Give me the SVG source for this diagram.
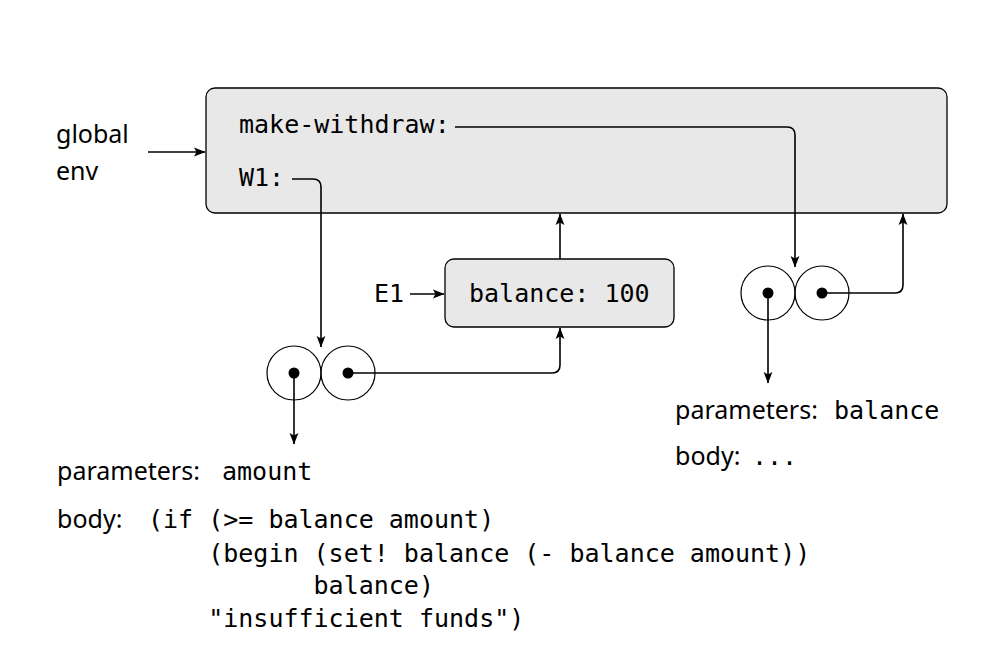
<svg xmlns="http://www.w3.org/2000/svg" width="990" height="670" viewBox="0 0 990 670">
  <style>
    .frame { fill: #e8e8e8; stroke: #000; stroke-width: 1.3; }
    .mono { font-family: "DejaVu Sans Mono", "Liberation Mono", monospace; font-size: 25px; fill: #000; }
    .sans { font-family: "Noto Sans", "Open Sans", sans-serif; font-size: 25px; fill: #000; }
    .cell { fill: none; stroke: #000; stroke-width: 1.2; }
    .dot { fill: #000; }
    .wire { fill: none; stroke: #000; stroke-width: 1.6; marker-end: url(#arrow); }
  </style>
  <defs>
    <marker id="arrow" markerUnits="userSpaceOnUse" markerWidth="12" markerHeight="10" viewBox="0 0 12 10" refX="11" refY="5" orient="auto">
      <path d="M0,0.6 L11.5,5 L0,9.4 L2.5,5 z" fill="#000"/>
    </marker>
  </defs>

  <!-- global environment frame -->
  <g id="global-env">
    <rect class="frame" x="206" y="88" width="741" height="125" rx="9"/>
    <text class="mono" x="239" y="133">make-withdraw:</text>
    <text class="mono" x="239" y="186">W1:</text>
  </g>

  <g id="global-label">
    <text class="sans" x="56" y="143">global</text>
    <text class="sans" x="56" y="180">env</text>
  </g>

  <!-- environment E1 -->
  <g id="E1">
    <rect class="frame" x="445" y="259" width="229" height="68" rx="9"/>
    <text class="mono" x="469" y="302">balance: 100</text>
  </g>
  <g id="E1-label">
    <text class="mono" x="374" y="302">E1</text>
  </g>

  <!-- procedure object W1 -->
  <g id="proc-W1">
    <circle class="cell" cx="294" cy="373" r="27"/>
    <circle class="cell" cx="348" cy="373" r="27"/>
    <circle class="dot" cx="294" cy="373" r="5.5"/>
    <circle class="dot" cx="348" cy="373" r="5.5"/>
  </g>

  <!-- procedure object make-withdraw -->
  <g id="proc-make-withdraw">
    <circle class="cell" cx="768" cy="293" r="27"/>
    <circle class="cell" cx="822" cy="293" r="27"/>
    <circle class="dot" cx="768" cy="293" r="5.5"/>
    <circle class="dot" cx="822" cy="293" r="5.5"/>
  </g>

  <!-- code of W1 -->
  <g id="code-W1">
    <text class="sans" x="57" y="480">parameters:</text>
    <text class="mono" x="222" y="480">amount</text>
    <text class="sans" x="57" y="528">body:</text>
    <text class="mono" x="148" y="528" xml:space="preserve">(if (&gt;= balance amount)</text>
    <text class="mono" x="148" y="562" xml:space="preserve">    (begin (set! balance (- balance amount))</text>
    <text class="mono" x="148" y="594" xml:space="preserve">           balance)</text>
    <text class="mono" x="148" y="627" xml:space="preserve">    "insufficient funds")</text>
  </g>

  <!-- code of make-withdraw -->
  <g id="code-make-withdraw">
    <text class="sans" x="675" y="419">parameters:</text>
    <text class="mono" x="834" y="419">balance</text>
    <text class="sans" x="675" y="465">body:</text>
    <text class="mono" x="752" y="465">...</text>
  </g>

  <!-- connectors -->
  <g id="connectors">
    <path class="wire" d="M148,152 H205"/>
    <path class="wire" d="M455,127 H787 Q795,127 795,135 V267"/>
    <path class="wire" d="M292,179 H313 Q321,179 321,187 V347"/>
    <path class="wire" d="M294,373 V444"/>
    <path class="wire" d="M348,373 H552 Q560,373 560,365 V328"/>
    <path class="wire" d="M560,259 V214"/>
    <path class="wire" d="M410,294 H444"/>
    <path class="wire" d="M768,293 V383"/>
    <path class="wire" d="M822,293 H895 Q903,293 903,285 V214"/>
  </g>
</svg>
